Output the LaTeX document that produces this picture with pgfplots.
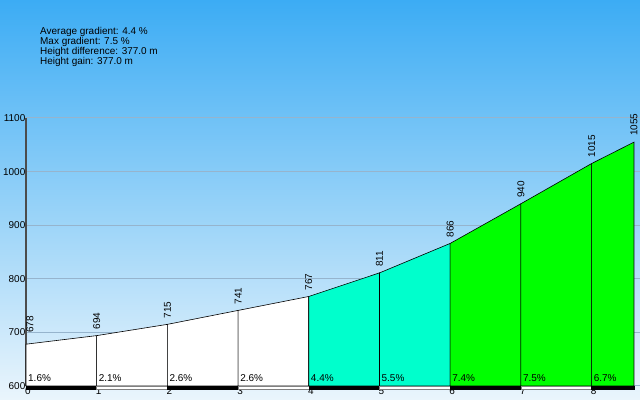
\documentclass[border=0pt]{standalone}
\usepackage{pgfplots}
\pgfplotsset{compat=1.18}
\usepackage{fontspec}
\setmainfont{Liberation Sans}
\definecolor{skytop}{RGB}{60,172,244}
\definecolor{skybot}{RGB}{234,245,252}
\definecolor{aqua}{RGB}{0,255,204}
\definecolor{lgreen}{RGB}{0,255,0}
\definecolor{gridc}{RGB}{150,180,205}
\newcommand{\lblfont}{\fontsize{10}{10}\selectfont}
\begin{document}
\begin{tikzpicture}
\shade[top color=skytop, bottom color=skybot] (0bp,0bp) rectangle (640bp,400bp);
\node[anchor=north west, align=left, font=\fontsize{10}{10}\selectfont, inner sep=0pt] at (40bp,373bp) {Average gradient: 4.4 \%\\Max gradient: 7.5 \%\\Height difference: 377.0 m\\Height gain: 377.0 m};
\begin{axis}[at={(26bp,14bp)}, anchor=south west, scale only axis,
  width=614bp, height=268bp,
  xmin=0, xmax=8.685, ymin=600, ymax=1100, clip=false,
  axis lines*=left,
  x axis line style={draw=none},
  y axis line style={draw=black!70, line width=1.2bp},
  xtick={0,...,8}, ytick={600,700,...,1100},
  major tick length=0,
  ymajorgrids, grid style={gridc, line width=1bp},
  tick label style={font=\lblfont},
  /pgf/number format/assume math mode=true,
  /pgf/number format/1000 sep={},
  yticklabel style={inner sep=0.5bp},
  xticklabel style={inner sep=0.5bp, yshift=-1bp, xshift=2bp},
]
% profile segments
\addplot[fill=white, draw=black, line width=0.6bp] coordinates {(0,600)(0,678)(1,694)(1,600)} -- cycle;
\addplot[fill=white, draw=black, line width=0.6bp] coordinates {(1,600)(1,694)(2,715)(2,600)} -- cycle;
\addplot[fill=white, draw=black, line width=0.6bp] coordinates {(2,600)(2,715)(3,741)(3,600)} -- cycle;
\addplot[fill=white, draw=black, line width=0.6bp] coordinates {(3,600)(3,741)(4,767)(4,600)} -- cycle;
\addplot[fill=aqua, draw=black, line width=0.6bp] coordinates {(4,600)(4,767)(5,811)(5,600)} -- cycle;
\addplot[fill=aqua, draw=black, line width=0.6bp] coordinates {(5,600)(5,811)(6,866)(6,600)} -- cycle;
\addplot[fill=lgreen, draw=black, line width=0.6bp] coordinates {(6,600)(6,866)(7,940)(7,600)} -- cycle;
\addplot[fill=lgreen, draw=black, line width=0.6bp] coordinates {(7,600)(7,940)(8,1015)(8,600)} -- cycle;
\addplot[fill=lgreen, draw=black, line width=0.6bp] coordinates {(8,600)(8,1015)(8.6,1055)(8.6,600)} -- cycle;
% distance scale bar
\addplot[fill=black, draw=black, line width=0.4bp] coordinates {(0,600)(1,600)(1,594.5)(0,594.5)} -- cycle;
\addplot[fill=white, draw=gray, line width=0.4bp] coordinates {(1,600)(2,600)(2,594.5)(1,594.5)} -- cycle;
\addplot[fill=black, draw=black, line width=0.4bp] coordinates {(2,600)(3,600)(3,594.5)(2,594.5)} -- cycle;
\addplot[fill=white, draw=gray, line width=0.4bp] coordinates {(3,600)(4,600)(4,594.5)(3,594.5)} -- cycle;
\addplot[fill=black, draw=black, line width=0.4bp] coordinates {(4,600)(5,600)(5,594.5)(4,594.5)} -- cycle;
\addplot[fill=white, draw=gray, line width=0.4bp] coordinates {(5,600)(6,600)(6,594.5)(5,594.5)} -- cycle;
\addplot[fill=black, draw=black, line width=0.4bp] coordinates {(6,600)(7,600)(7,594.5)(6,594.5)} -- cycle;
\addplot[fill=white, draw=gray, line width=0.4bp] coordinates {(7,600)(8,600)(8,594.5)(7,594.5)} -- cycle;
\addplot[fill=black, draw=black, line width=0.4bp] coordinates {(8,600)(8.6,600)(8.6,594.5)(8,594.5)} -- cycle;
% elevation labels
\addplot[draw=none, mark=none, nodes near coords, point meta=explicit symbolic,
  every node near coord/.append style={font=\lblfont, xshift=4bp, rotate=90, anchor=west, inner sep=11bp}]
  coordinates {(0,678) [678]};
\addplot[draw=none, mark=none, nodes near coords, point meta=explicit symbolic,
  every node near coord/.append style={font=\lblfont, rotate=90, anchor=west, inner sep=6bp}]
  coordinates {(1,694) [694] (2,715) [715] (3,741) [741] (4,767) [767] (5,811) [811] (6,866) [866] (7,940) [940] (8,1015) [1015] (8.6,1055) [1055]};
% gradient labels
\addplot[draw=none, mark=none, nodes near coords, point meta=explicit symbolic,
  every node near coord/.append style={font=\lblfont, anchor=base west, inner sep=0pt, xshift=2bp, yshift=5bp}]
  coordinates {(0,600) [1.6\%] (1,600) [2.1\%] (2,600) [2.6\%] (3,600) [2.6\%] (4,600) [4.4\%] (5,600) [5.5\%] (6,600) [7.4\%] (7,600) [7.5\%] (8,600) [6.7\%]};
\end{axis}
\pgfresetboundingbox
\useasboundingbox (0bp,0bp) rectangle (640bp,400bp);
\end{tikzpicture}
\end{document}
